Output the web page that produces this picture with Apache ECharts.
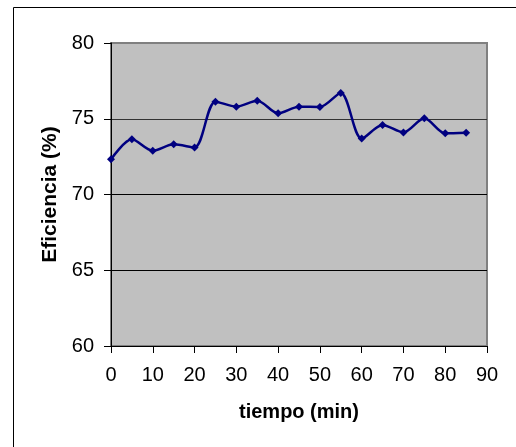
<!DOCTYPE html>
<html>
<head>
<meta charset="utf-8">
<script src="https://cdn.jsdelivr.net/npm/echarts@6/dist/echarts.min.js"></script>
<style>
html,body{margin:0;padding:0;background:#fff;overflow:hidden;}
#chart{width:516px;height:447px;}
</style>
</head>
<body>
<div id="chart"></div>
<script>
var tiempo = [0, 5, 10, 15, 20, 25, 30, 35, 40, 45, 50, 55, 60, 65, 70, 75, 80, 85];
var eficiencia = [72.32, 73.64, 72.89, 73.31, 73.11, 76.13, 75.8, 76.19, 75.36, 75.8, 75.78, 76.7, 73.69, 74.59, 74.1, 75.03, 74.04, 74.08];
var xTitle = 'tiempo (min)';
var yTitle = 'Eficiencia (%)';

var chart = echarts.init(document.getElementById('chart'), null, {renderer: 'canvas'});
var font = 'Liberation Sans, Arial, sans-serif';
chart.setOption({
  animation: false,
  graphic: [
    {type: 'line', shape: {x1: 13.5, y1: 7.5, x2: 520, y2: 7.5}, style: {stroke: '#000', lineWidth: 1}},
    {type: 'line', shape: {x1: 13.5, y1: 7.5, x2: 13.5, y2: 450}, style: {stroke: '#000', lineWidth: 1}}
  ],
  grid: {left: 111, top: 43, width: 376, height: 303, show: true, backgroundColor: '#C0C0C0', borderColor: '#808080', borderWidth: 2},
  xAxis: {
    type: 'value', min: 0, max: 90, interval: 10,
    name: xTitle, nameLocation: 'middle', nameGap: 56,
    nameTextStyle: {fontFamily: font, fontSize: 20, fontWeight: 'bold', color: '#000'},
    axisLine: {show: true, onZero: false, lineStyle: {color: '#000', width: 1}},
    axisTick: {show: true, inside: false, length: 7, lineStyle: {color: '#000'}},
    axisLabel: {fontFamily: font, fontSize: 20, color: '#000', margin: 19},
    splitLine: {show: false}
  },
  yAxis: {
    type: 'value', min: 60, max: 80, interval: 5,
    name: yTitle, nameLocation: 'middle', nameGap: 48, nameRotate: 90,
    nameTextStyle: {fontFamily: font, fontSize: 21, fontWeight: 'bold', color: '#000'},
    axisLine: {show: true, onZero: false, lineStyle: {color: '#000', width: 1}},
    axisTick: {show: true, inside: false, length: 7, lineStyle: {color: '#000'}},
    axisLabel: {fontFamily: font, fontSize: 20, color: '#000', margin: 17},
    splitLine: {show: true, lineStyle: {color: ['#000', '#000', '#000', '#333', '#808080'], width: 1}}
  },
  series: [{
    type: 'line',
    data: tiempo.map(function (t, i) { return [t, eficiencia[i]]; }),
    smooth: 0.3,
    symbol: 'diamond',
    symbolSize: 8,
    showSymbol: true,
    lineStyle: {color: '#000080', width: 2.5},
    itemStyle: {color: '#000080', borderWidth: 0}
  }]
});
</script>
</body>
</html>
